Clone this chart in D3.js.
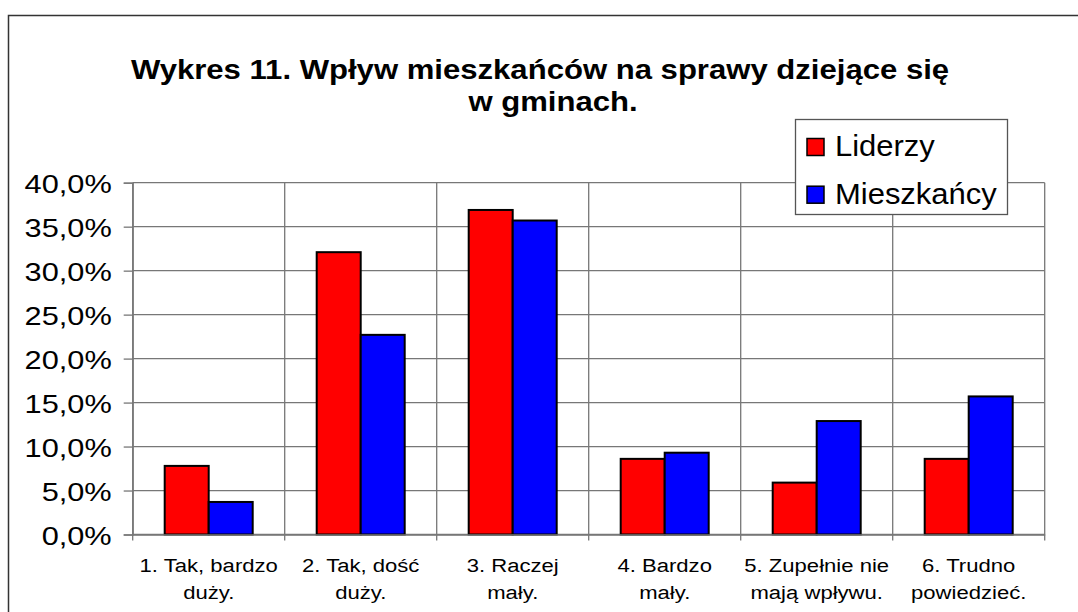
<!DOCTYPE html>
<html>
<head>
<meta charset="utf-8">
<title>Wykres 11</title>
<style>
  html, body { margin: 0; padding: 0; background: #fff; }
  svg { display: block; }
  text { font-family: Arial, "Liberation Sans", sans-serif; fill: #000; }
</style>
</head>
<body>
<svg id="chart" width="1078" height="612"></svg>
<script src="https://cdn.jsdelivr.net/npm/d3@7/dist/d3.min.js"></script>
<script>
// data (percent)
var categories = ['1', '2', '3', '4', '5', '6'];
var labelLines = [
  ['1. Tak, bardzo', 'duży.'],
  ['2. Tak, dość', 'duży.'],
  ['3. Raczej', 'mały.'],
  ['4. Bardzo', 'mały.'],
  ['5. Zupełnie nie', 'mają wpływu.'],
  ['6. Trudno', 'powiedzieć.']
];
var seriesNames = ['Liderzy', 'Mieszkańcy'];
var liderzy = [7.8, 32.1, 36.9, 8.6, 5.9, 8.6];
var mieszkancy = [3.7, 22.7, 35.7, 9.3, 12.9, 15.7];
var yTicks = [0, 5, 10, 15, 20, 25, 30, 35, 40];
var titleLines = ['Wykres 11. Wpływ mieszkańców na sprawy dziejące się', 'w gminach.'];
var colors = ['#ff0000', '#0000ff'];

var series = [liderzy, mieszkancy];
var sx = 1.15; // text in the picture is a bit stretched sideways

var svg = d3.select('#chart');
var plot = { left: 132.7, right: 1044.7, top: 182.7, bottom: 534.5 };

var x = d3.scaleBand().domain(categories).range([plot.left, plot.right]).padding(0);
var x1 = d3.scaleBand().domain(seriesNames).range([32, x.bandwidth() - 32]).padding(0);
var y = d3.scaleLinear().domain([0, 40]).range([plot.bottom, plot.top]);

var pl = d3.formatLocale({ decimal: ',', thousands: ' ', grouping: [3], currency: ['', ' zł'] });
var fmt = pl.format('.1%');

// outer frame (only top and left edge fall inside the picture)
svg.append('rect')
  .attr('x', 8.5).attr('y', 15.5)
  .attr('width', 1100).attr('height', 700)
  .attr('fill', 'none').attr('stroke', '#333').attr('stroke-width', 1.5);

// title
var titlePos = [[540, 78.5], [553, 111]];
svg.append('g').selectAll('text')
  .data(titleLines)
  .join('text')
  .attr('transform', function (d, i) { return 'translate(' + titlePos[i][0] + ',' + titlePos[i][1] + ') scale(1.11,1)'; })
  .attr('text-anchor', 'middle')
  .style('font-size', '28px')
  .style('font-weight', 'bold')
  .text(function (d) { return d; });

// horizontal grid
var grid = svg.append('g');
grid.selectAll('line.h')
  .data(yTicks)
  .join('line')
  .attr('class', 'h')
  .attr('x1', plot.left).attr('x2', plot.right)
  .attr('y1', function (d) { return y(d); })
  .attr('y2', function (d) { return y(d); })
  .attr('stroke', '#777').attr('stroke-width', 1.3);

// vertical grid at category boundaries
var bounds = categories.map(function (c) { return x(c); }).concat([x.range()[1]]);
grid.selectAll('line.v')
  .data(bounds)
  .join('line')
  .attr('class', 'v')
  .attr('x1', function (d) { return d; }).attr('x2', function (d) { return d; })
  .attr('y1', plot.top).attr('y2', plot.bottom + 6)
  .attr('stroke', '#777').attr('stroke-width', 1.3);

// y axis
var yAxis = svg.append('g')
  .attr('transform', 'translate(' + plot.left + ',0)')
  .call(d3.axisLeft(y).tickValues(yTicks).tickSize(9).tickFormat(function (d) { return fmt(d / 100); }));
yAxis.select('.domain').attr('stroke', '#777').attr('stroke-width', 1.3);
yAxis.selectAll('.tick line').attr('stroke', '#777').attr('stroke-width', 1.3);
yAxis.selectAll('.tick text')
  .attr('x', null).attr('dy', '0.36em')
  .attr('transform', 'translate(-21,0) scale(1.16,1)')
  .style('font-size', '26.5px')
  .style('font-family', 'Arial, "Liberation Sans", sans-serif');

// bars
var groups = svg.append('g').selectAll('g')
  .data(categories)
  .join('g')
  .attr('transform', function (c) { return 'translate(' + x(c) + ',0)'; });

groups.selectAll('rect')
  .data(function (c, i) { return seriesNames.map(function (s, k) { return { s: s, k: k, v: series[k][i] }; }); })
  .join('rect')
  .attr('x', function (d) { return x1(d.s); })
  .attr('width', x1.bandwidth())
  .attr('y', function (d) { return y(d.v); })
  .attr('height', function (d) { return y(0) - y(d.v); })
  .attr('fill', function (d) { return colors[d.k]; })
  .attr('stroke', '#000').attr('stroke-width', 2);

// x axis
var xAxis = svg.append('g')
  .attr('transform', 'translate(0,' + plot.bottom + ')')
  .call(d3.axisBottom(x).tickSize(0).tickFormat(''));
xAxis.select('.domain').attr('stroke', '#777').attr('stroke-width', 1.3);
xAxis.selectAll('.tick').each(function (c, i) {
  var t = d3.select(this).append('g');
  t.selectAll('text')
    .data(labelLines[i])
    .join('text')
    .attr('transform', function (d, j) { return 'translate(0,' + (37.5 + j * 26.5) + ') scale(' + sx + ',1)'; })
    .attr('text-anchor', 'middle')
    .style('font-size', '19.2px')
    .style('font-family', 'Arial, "Liberation Sans", sans-serif')
    .attr('fill', '#000')
    .text(function (d) { return d; });
});

// legend
var legend = svg.append('g').attr('transform', 'translate(0,3)');
legend.append('rect')
  .attr('x', 795.5).attr('y', 116.5)
  .attr('width', 212).attr('height', 95)
  .attr('fill', '#fff').attr('stroke', '#555').attr('stroke-width', 1.3);
var items = legend.selectAll('g')
  .data(seriesNames)
  .join('g')
  .attr('transform', function (d, i) { return 'translate(0,' + (i * 47.7) + ')'; });
items.append('rect')
  .attr('x', 807).attr('y', 135.5)
  .attr('width', 17).attr('height', 17)
  .attr('fill', function (d, i) { return colors[i]; })
  .attr('stroke', '#000').attr('stroke-width', 1.5);
items.append('text')
  .attr('transform', 'translate(835,153.3) scale(' + 1.05 + ',1)')
  .style('font-size', '29.5px')
  .text(function (d) { return d; });
</script>
</body>
</html>
